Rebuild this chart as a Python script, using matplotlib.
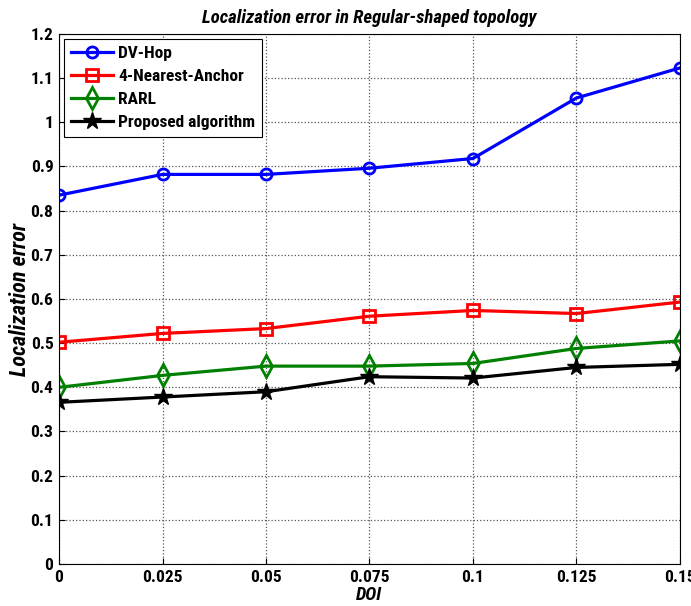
import matplotlib
matplotlib.use("Agg")
import matplotlib.pyplot as plt
from matplotlib import font_manager

doi = [0, 0.025, 0.05, 0.075, 0.1, 0.125, 0.15]
dv_hop = [0.835, 0.882, 0.882, 0.896, 0.918, 1.055, 1.123]
nearest4 = [0.502, 0.522, 0.533, 0.561, 0.574, 0.567, 0.593]
rarl = [0.400, 0.427, 0.448, 0.448, 0.454, 0.488, 0.505]
proposed = [0.366, 0.378, 0.390, 0.424, 0.421, 0.445, 0.452]

xticks = [0, 0.025, 0.05, 0.075, 0.1, 0.125, 0.15]
xticklabels = ["0", "0.025", "0.05", "0.075", "0.1", "0.125", "0.15"]
yticks = [0, 0.1, 0.2, 0.3, 0.4, 0.5, 0.6, 0.7, 0.8, 0.9, 1, 1.1, 1.2]
yticklabels = ["0", "0.1", "0.2", "0.3", "0.4", "0.5", "0.6", "0.7", "0.8", "0.9", "1", "1.1", "1.2"]

# pick a bold condensed face close to Arial Narrow Bold
bold_faces = set(f.name for f in font_manager.fontManager.ttflist
                 if str(f.weight) in ("700", "bold"))
narrow = "Liberation Sans"
for cand in ["Liberation Sans Narrow", "Arial Narrow", "Roboto Condensed",
             "Archivo Narrow", "Asap Condensed", "Barlow Semi Condensed"]:
    if cand in bold_faces:
        narrow = cand
        break

plt.rcParams["font.family"] = [narrow, "Liberation Sans", "DejaVu Sans"]
plt.rcParams["font.weight"] = "bold"

fig = plt.figure(figsize=(6.91, 6.06), dpi=100)
ax = fig.add_axes([0.0854, 0.0693, 0.8986, 0.8747])

ax.plot(doi, dv_hop, "b-o", lw=2.3, ms=8, mfc="none", mew=2, label="DV-Hop")
ax.plot(doi, nearest4, "r-s", lw=2.3, ms=8, mfc="none", mew=2, label="4-Nearest-Anchor")
ax.plot(doi, rarl, "-d", color="#008000", lw=2.3, ms=11, mfc="none", mew=2, label="RARL")
ax.plot(doi, proposed, "k-*", lw=2.3, ms=13, label="Proposed algorithm")

ax.set_xlim(0, 0.15)
ax.set_ylim(0, 1.2)
ax.set_xticks(xticks)
ax.set_xticklabels(xticklabels)
ax.set_yticks(yticks)
ax.set_yticklabels(yticklabels)
ax.tick_params(labelsize=12.5, direction="in", length=4, pad=4)
ax.grid(True, linestyle=":", color="#555555", lw=0.9)
for s in ax.spines.values():
    s.set_linewidth(0.8)

ax.set_title("Localization error in Regular-shaped topology", fontsize=13.5,
             fontweight="bold", style="italic", pad=8)
ax.set_xlabel("DOI", fontsize=13.5, fontweight="bold", style="italic", labelpad=1)
ax.set_ylabel("Localization error", fontsize=16, fontweight="bold", style="italic", labelpad=0)

leg = ax.legend(loc="upper left", fontsize=12.5, fancybox=False, edgecolor="black",
                framealpha=1, borderaxespad=0.3, handlelength=2.4, labelspacing=0.45,
                borderpad=0.4, handletextpad=0.3)
leg.get_frame().set_linewidth(0.8)

fig.savefig("out.png", dpi=100)
